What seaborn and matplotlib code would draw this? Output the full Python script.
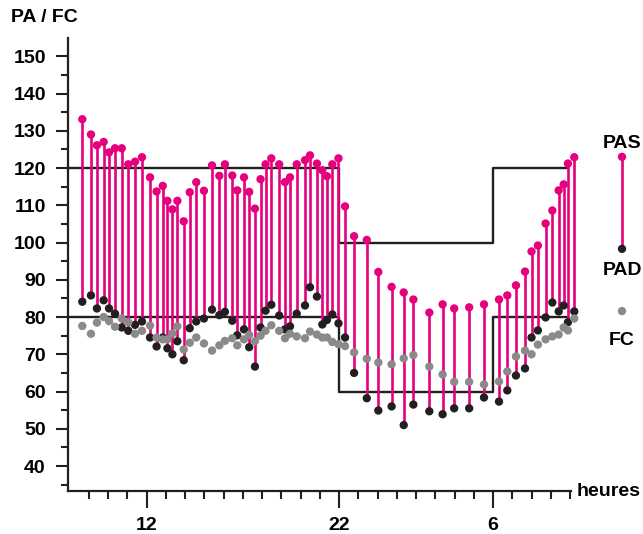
import matplotlib
matplotlib.use("Agg")
import matplotlib.pyplot as plt
import seaborn as sns
from matplotlib.ticker import MultipleLocator, FixedLocator

# heures de mesure (au-dela de 24 = lendemain matin)
heures = [8.66, 9.11, 9.42, 9.77, 10.05, 10.36, 10.71, 11.05, 11.40, 11.76,
          12.18, 12.52, 12.84, 13.08, 13.34, 13.60, 13.93, 14.24, 14.58, 14.98,
          15.40, 15.78, 16.07, 16.45, 16.71, 17.06, 17.33, 17.63, 17.92, 18.18,
          18.48, 18.89, 19.19, 19.45, 19.80, 20.23, 20.49, 20.85, 21.13, 21.37,
          21.65, 21.97, 22.31, 22.78, 23.44, 24.04, 24.73, 25.36, 25.86, 26.69,
          27.38, 27.98, 28.76, 29.53, 30.31, 30.74, 31.19, 31.66, 32.00, 32.33,
          32.73, 33.08, 33.41, 33.67, 33.89, 34.22]
pas = [133.1, 129.0, 126.1, 127.0, 124.2, 125.3, 125.3, 121.0, 121.7, 122.9,
       117.5, 113.7, 115.2, 111.2, 108.9, 111.2, 105.7, 113.5, 116.2, 113.9,
       120.7, 117.9, 121.0, 118.0, 114.0, 117.5, 113.6, 109.1, 117.0, 121.0,
       122.6, 121.0, 116.2, 117.5, 121.0, 122.1, 123.4, 121.2, 119.4, 117.8,
       121.0, 122.6, 109.7, 101.7, 100.7, 92.1, 88.1, 86.6, 84.7, 81.2,
       83.4, 82.3, 82.6, 83.4, 84.7, 85.8, 88.5, 92.2, 97.6, 99.2,
       105.1, 108.6, 114.0, 115.6, 121.2, 122.9]
pad = [84.1, 85.8, 82.3, 84.5, 82.3, 80.9, 77.2, 76.3, 77.9, 78.8,
       74.5, 72.1, 74.5, 71.6, 70.0, 73.5, 68.4, 77.0, 78.8, 79.6,
       82.0, 80.5, 81.4, 79.0, 75.1, 76.7, 71.9, 66.7, 77.2, 81.7,
       83.3, 80.4, 76.7, 77.5, 80.9, 83.1, 88.0, 85.5, 78.0, 79.2,
       80.7, 78.3, 74.5, 65.0, 58.2, 54.9, 56.0, 51.0, 56.5, 54.7,
       53.9, 55.5, 55.5, 58.4, 57.3, 60.3, 64.3, 66.2, 74.5, 76.4,
       79.9, 83.9, 81.5, 83.1, 78.6, 81.5]
fc = [77.6, 75.5, 78.5, 80.0, 78.9, 77.4, 79.6, 78.6, 75.5, 76.3,
      77.7, 74.5, 74.0, 74.0, 75.6, 77.5, 71.3, 73.1, 74.5, 72.9,
      71.0, 72.4, 73.6, 74.3, 72.4, 74.0, 75.2, 73.5, 75.0, 76.3,
      77.8, 76.3, 74.3, 75.5, 74.8, 74.3, 76.1, 75.3, 74.5, 74.5,
      73.3, 72.7, 72.2, 70.5, 68.8, 67.8, 67.3, 68.9, 69.8, 66.7,
      64.6, 62.6, 62.6, 61.9, 62.7, 65.4, 69.4, 71.0, 70.0, 72.6,
      74.0, 74.8, 75.3, 77.2, 76.4, 79.6]

# seuils jour / nuit
seuil_x = [7.92, 22, 30, 33.85]
seuil_pas = [120, 100, 120, 120]
seuil_pad = [80, 60, 80, 80]

tick_pos = [12, 22, 30]
tick_lab = ["12", "22", "6"]

magenta = "#e6007e"
noir = "#231f20"
gris = "#8a8a8a"

sns.set_style("ticks")
plt.rcParams["font.family"] = ["Liberation Sans", "DejaVu Sans"]
plt.rcParams["font.weight"] = "bold"
plt.rcParams["text.color"] = "black"
plt.rcParams["xtick.labelcolor"] = "black"
plt.rcParams["ytick.labelcolor"] = "black"

fs = 14

fig = plt.figure(figsize=(6.43, 5.34), dpi=100)
ax = fig.add_axes([68/643, 43/534, (576-68)/643, (491-38)/534])

# seuils
ax.plot(seuil_x, seuil_pas, drawstyle="steps-post", color=noir, lw=1.7, zorder=2)
ax.plot(seuil_x, seuil_pad, drawstyle="steps-post", color=noir, lw=1.7, zorder=2)

# tiges PAD -> PAS
ax.vlines(heures, pad, pas, color=magenta, lw=1.9, zorder=3)
sns.scatterplot(x=heures, y=pas, color=magenta, s=36, edgecolor="none", ax=ax, zorder=4, clip_on=False)
sns.scatterplot(x=heures, y=pad, color=noir, s=36, edgecolor="none", ax=ax, zorder=4, clip_on=False)
sns.scatterplot(x=heures, y=fc, color=gris, s=36, edgecolor="none", ax=ax, zorder=5, clip_on=False)

ax.set_xlim(7.917, 34.31)
ax.set_ylim(33.3, 154.9)

# axes
sns.despine(ax=ax)
ax.spines["left"].set_linewidth(1.6)
ax.spines["bottom"].set_linewidth(1.6)
ax.spines["left"].set_color(noir)
ax.spines["bottom"].set_color(noir)
ax.spines["bottom"].set_bounds(7.917, 34.05)

ax.yaxis.set_major_locator(MultipleLocator(10))
ax.yaxis.set_minor_locator(FixedLocator(list(range(35, 150, 10))))
ax.xaxis.set_major_locator(FixedLocator(tick_pos))
ax.set_xticklabels(tick_lab)
ax.xaxis.set_minor_locator(FixedLocator([h for h in range(9, 35) if h not in tick_pos]))
ax.tick_params(axis="y", which="major", length=9, width=1.5, color=noir, pad=7, labelsize=fs)
ax.tick_params(axis="y", which="minor", length=5, width=1.5, color=noir)
ax.tick_params(axis="x", which="major", length=12, width=1.5, color=noir, pad=7, labelsize=fs)
ax.tick_params(axis="x", which="minor", length=6, width=1.5, color=noir)
for lab in ax.get_xticklabels() + ax.get_yticklabels():
    lab.set_fontweight("bold")

fig.text(11/643, 1-17/534, "PA / FC", fontsize=fs, fontweight="bold", va="center", ha="left")
fig.text(577/643, 1-492/534, "heures", fontsize=fs, fontweight="bold", va="center", ha="left")

# legende a droite
lx = 36.7
ax.vlines([lx], [98.3], [123.0], color=magenta, lw=1.9, clip_on=False)
ax.scatter([lx], [123.0], color=magenta, s=36, edgecolor="none", clip_on=False, zorder=6)
ax.scatter([lx], [98.3], color=noir, s=36, edgecolor="none", clip_on=False, zorder=6)
ax.scatter([lx], [81.6], color=gris, s=36, edgecolor="none", clip_on=False, zorder=6)
ax.text(lx, 126.7, "PAS", fontsize=fs, fontweight="bold", ha="center", va="center", clip_on=False)
ax.text(lx, 92.6, "PAD", fontsize=fs, fontweight="bold", ha="center", va="center", clip_on=False)
ax.text(lx, 73.6, "FC", fontsize=fs, fontweight="bold", ha="center", va="center", clip_on=False)

fig.savefig("out.png", dpi=100)
